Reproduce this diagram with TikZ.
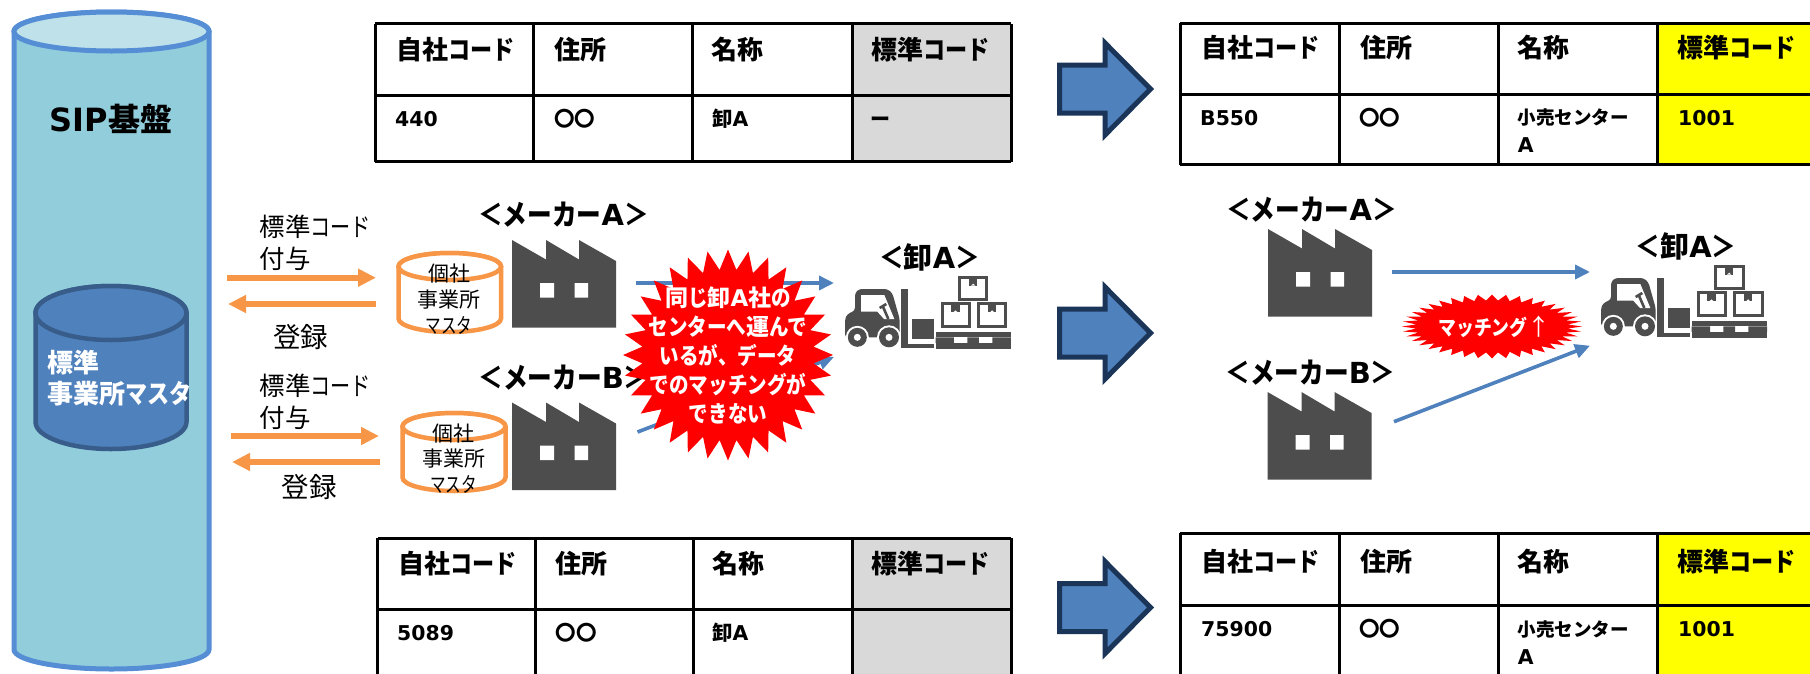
\documentclass[tikz,border=0pt]{standalone}
\usepackage{fontspec}
\setmainfont{Noto Sans CJK JP}
\newfontfamily\ltn[BoldFont={DejaVu Sans Bold}]{DejaVu Sans}
\newfontfamily\kaf[FakeStretch=0.85]{Noto Sans CJK JP}
\newfontfamily\kcf[FakeStretch=0.79]{Noto Sans CJK JP}
\newfontfamily\kbf[FakeStretch=0.74]{Noto Sans CJK JP}
\newcommand\ka[1]{{\kaf #1}}
\newcommand\kc[1]{{\kcf #1}}
\newcommand\kb[1]{{\kbf #1}}
\usetikzlibrary{arrows.meta}
\definecolor{cylfill}{HTML}{92CDDC}
\definecolor{cyltop}{HTML}{BEE1EA}
\definecolor{cylline}{HTML}{558ED5}
\definecolor{blu}{HTML}{4F81BD}
\definecolor{bluline}{HTML}{385D8A}
\definecolor{navy}{HTML}{1B3558}
\definecolor{org}{HTML}{F79646}
\definecolor{fact}{HTML}{4D4D4D}
\definecolor{hdrgray}{HTML}{D9D9D9}
\definecolor{yel}{HTML}{FFFF00}
\definecolor{burst}{HTML}{FF0000}
\newcommand\fs[2]{\fontsize{#1}{#2}\selectfont}
\newcommand\aL{{\ltn A}}
\newcommand\bL{{\ltn B}}
% cylinder: x1 x2 ytop ybot ry body top line lw
\newcommand\mycyl[9]{%
  \pgfmathsetmacro\rxx{(#2-#1)/2}
  \path[draw=#8,line width=#9,fill=#6] (#1,#3+#5) -- (#1,#4-#5)
     arc[start angle=180,end angle=360,x radius=\rxx pt,y radius=#5 pt]
     -- (#2,#3+#5) arc[start angle=0,end angle=180,x radius=\rxx pt,y radius=#5 pt] -- cycle;
  \path[draw=#8,line width=#9,fill=#7] ({(#1+#2)/2},#3+#5) ellipse[x radius=\rxx pt,y radius=#5 pt];
}
\newcommand\factory[2]{%
  \begin{scope}[shift={(#1,#2)}]
  \fill[fact] (0,0)--(34,19.5)--(34,0)--(67,19.5)--(67,0)--(104,21)--(104,87.5)--(0,87.5)--cycle;
  \fill[white] (28,43) rectangle (42,57.5) (62.5,43) rectangle (76,57.5);
  \end{scope}}
\newcommand\blockarrow[1]{%
  \draw[draw=navy,fill=blu,line width=5pt,miter limit=6]
   (1059.5,#1-24)--(1105,#1-24)--(1105,#1-46)--(1150.5,#1)--(1105,#1+46)--(1105,#1+24)--(1059.5,#1+24)--cycle;}
\newcommand\forklift[2]{%
  \begin{scope}[shift={(#1,#2)},x=0.3333pt,y=-0.3333pt]
  \fill[fact,rounded corners=3pt] (18,205)--(18,150)--(25,135)--(48,125)--(48,72)--(60,60)--(145,60)--(160,72)--(182,150)--(182,205)--cycle;
  \fill[white] (66,78)--(136,78)--(166,150)--(135,150)--(115,128)--(66,128)--cycle;
  \draw[fact,line width=2.6pt] (122,117)--(142,105) (131,111)--(148,150);
  \fill[white] (55,205) circle[radius=11.5pt];
  \fill[white] (150,205) circle[radius=12pt];
  \fill[fact] (55,205) circle[radius=9.5pt];
  \fill[fact] (150,205) circle[radius=10pt];
  \fill[white] (55,205) circle[radius=3.5pt];
  \fill[white] (150,205) circle[radius=3.5pt];
  \fill[fact] (185,60) rectangle (208,237);
  \fill[fact] (208,226) rectangle (286,237);
  \fill[fact] (220,150) rectangle (286,210);
  \fill[fact] (290,188) rectangle (516,205);
  \fill[fact] (290,222) rectangle (516,240);
  \fill[fact] (290,205) rectangle (345,222) (385,205) rectangle (420,222) (460,205) rectangle (516,222);
  \foreach \bx/\by in {305/100,415/100,358/20}{
    \draw[fact,line width=3pt] (\bx+4,\by+4) rectangle (\bx+86,\by+72);
    \fill[fact] (\bx+32,\by) rectangle (\bx+57,\by+30);
    \fill[white] (\bx+44.5,\by+24) -- (\bx+38,\by+30) -- (\bx+51,\by+30) -- cycle;
  }
  \end{scope}}
% table: x0 x1 x2 x3 x4 top mid bottom lastfill
\newcommand\tbl[9]{%
  \fill[#9] (#4,#6) rectangle (#5,#8);
  \draw[black,line width=3pt] (#1,#6) -- (#5,#6) (#1,#7) -- (#5,#7) (#1,#8) -- (#5,#8)
    (#1,#6) -- (#1,#8) (#2,#6) -- (#2,#8) (#3,#6) -- (#3,#8) (#4,#6) -- (#4,#8) (#5,#6) -- (#5,#8);
}
\tikzset{
  tx/.style={anchor=west,inner sep=0pt,text height=18pt,text depth=2.4pt,text=black},
  hd/.style={tx,text height=22.9pt,text depth=3.1pt,font=\fs{26}{30}\bfseries},
  latb/.style={tx,font=\fs{20.4}{24}\ltn\bfseries},
  sm/.style={tx,text height=16.3pt,text depth=2.2pt,font=\fs{18.5}{22}\bfseries},
  circ/.style={tx,font=\fs{20.5}{24}\bfseries},
  ttl/.style={inner sep=0pt,font=\fs{29}{34}\bfseries,text=black},
  lab/.style={inner sep=0pt,font=\fs{25.5}{32.5},text=black},
  lab2/.style={inner sep=0pt,font=\fs{27.5}{32},text=black},
  cyltxt/.style={inner sep=0pt,align=center,font=\fs{21}{25.8},text=black},
  orgarrow/.style={draw=org,line width=6pt,-{Triangle[length=18pt,width=17pt]}},
  bluearrow/.style={draw=blu,line width=3.6pt,-{Triangle[length=15pt,width=14pt]}},
  blutxt/.style={tx,text height=22.9pt,text depth=3.1pt,font=\fs{26}{31}\bfseries,text=white},
}
\begin{document}
\begin{tikzpicture}[x=1pt,y=-1pt]
\path[use as bounding box,clip] (0,0) rectangle (1810,673);
\fill[white] (0,0) rectangle (1810,673);
% SIP cylinder
\mycyl{14}{209}{12}{669}{19.5}{cylfill}{cyltop}{cylline}{5pt}
\node[inner sep=0pt,font=\fs{32}{38}\bfseries] (sip) at (111,119) {{\ltn SIP}基盤};
\mycyl{35.5}{186.5}{286}{449}{27}{blu}{blu}{bluline}{4.5pt}
\node[blutxt] (std1) at (47.5,363) {標準};
\node[blutxt] (std2) at (47.5,394) {事業所\ka{マスタ}};
% orange arrows
\coordinate (oa1) at (227,277.7); \coordinate (oa2) at (376,277.7);
\coordinate (ob1) at (376,304); \coordinate (ob2) at (228,304);
\coordinate (oc1) at (231,436); \coordinate (oc2) at (379,436);
\coordinate (od1) at (380,462); \coordinate (od2) at (232,462);
\draw[orgarrow] (oa1) -- (oa2);
\draw[orgarrow] (ob1) -- (ob2);
\draw[orgarrow] (oc1) -- (oc2);
\draw[orgarrow] (od1) -- (od2);
\node[lab,anchor=west,align=left] (l1) at (259.5,243) {標準\kc{コード}\\付与};
\node[lab2] (l2) at (300.6,337) {登録};
\node[lab,anchor=west,align=left] (l3) at (259.5,402) {標準\kc{コード}\\付与};
\node[lab2] (l4) at (309,487) {登録};
% orange cylinders
\mycyl{398.5}{501}{253}{332}{13.5}{white}{white}{org}{4.5pt}
\node[cyltxt] (c1) at (449,299) {個社\\事業所\\\kb{マスタ}};
\mycyl{402.5}{505.5}{413}{491}{13.5}{white}{white}{org}{4.5pt}
\node[cyltxt] (c2) at (453.5,458.5) {個社\\事業所\\\kb{マスタ}};
% left scene
\coordinate (ba1) at (636,283); \coordinate (ba2) at (834,283);
\coordinate (bb1) at (637.5,432); \coordinate (bb2) at (834,357);
\draw[bluearrow] (ba1) -- (ba2);
\draw[bluearrow] (bb1) -- (bb2);
\factory{512}{240}
\factory{512}{402.5}
\node[ttl] (mA) at (563.5,214.6) {\ka{＜メーカー}\aL\ka{＞}};
\node[ttl] (mB) at (563.5,378) {\ka{＜メーカー}\bL\ka{＞}};
\node[ttl] (wA) at (929.5,257.7) {\ka{＜}卸\aL\ka{＞}};
\forklift{839}{269}
% burst 1
\fill[burst] plot[samples at={0,...,63},variable=\k]
  ({728+(95.5+9.5*cos(\k*180))*sin(\k*5.625)},{355-(95.5+10*cos(\k*180))*cos(\k*5.625)}) -- cycle;
\node[inner sep=0pt,align=center,text=white,font=\fs{23}{29}\bfseries] (b1) at (728,355)
  {同\ka{じ}卸{\ltn A}社\ka{の}\\\ka{センターへ}運\ka{んで}\\\ka{いるが、データ}\\\ka{でのマッチングが}\\\ka{できない}};
% block arrows
\blockarrow{89}
\blockarrow{333}
\blockarrow{607.5}
% right scene
\factory{1268}{229}
\factory{1267.5}{392}
\node[ttl] (mA2) at (1311.5,210) {\ka{＜メーカー}\aL\ka{＞}};
\node[ttl] (mB2) at (1310.5,372.7) {\ka{＜メーカー}\bL\ka{＞}};
\node[ttl] (wA2) at (1686,246.7) {\ka{＜}卸\aL\ka{＞}};
\forklift{1595}{258}
\coordinate (bc1) at (1392,272); \coordinate (bc2) at (1590,272);
\coordinate (bd1) at (1394,421.7); \coordinate (bd2) at (1590,345.7);
\draw[bluearrow] (bc1) -- (bc2);
\draw[bluearrow] (bd1) -- (bd2);
\fill[burst] plot[samples at={0,...,79},variable=\k]
  ({1492+(83+7*cos(\k*180))*sin(\k*4.5)},{326.5-(29+3*cos(\k*180))*cos(\k*4.5)}) -- cycle;
\node[inner sep=0pt,text=white,font=\fs{21}{24}\bfseries] (b2) at (1494.5,326.7) {\ka{マッチング}{\mdseries\fontsize{23}{24}\selectfont ↑}};
% table 1
\tbl{375}{533.5}{692.5}{852}{1011}{23.5}{95}{161.7}{hdrgray}
\node[hd] (t1a) at (396,49.4) {自社\ka{コード}};
\node[hd] (t1b) at (554,49.4) {住所};
\node[hd] (t1c) at (711.5,49.4) {名称};
\node[hd] (t1d) at (871.5,49.4) {標準\ka{コード}};
\node[latb] (t1e) at (395,119) {440};
\node[circ] (t1f) at (554,119) {〇〇};
\node[tx,font=\fs{20.4}{24}\bfseries] (t1g) at (712,119) {卸{\ltn A}};
\node[tx,font=\fs{20}{24}\bfseries] (t1h) at (870,119) {ー};
% table 2
\tbl{377.5}{535.5}{693.7}{852}{1011}{538}{609.5}{690}{hdrgray}
\node[hd] (t2a) at (398,564) {自社\ka{コード}};
\node[hd] (t2b) at (555.5,564) {住所};
\node[hd] (t2c) at (712,564) {名称};
\node[hd] (t2d) at (871.5,564) {標準\ka{コード}};
\node[latb] (t2e) at (397,633) {5089};
\node[circ] (t2f) at (555.5,633) {〇〇};
\node[tx,font=\fs{20.4}{24}\bfseries] (t2g) at (712,633) {卸{\ltn A}};
% table 3
\tbl{1180}{1339}{1498.5}{1657}{1830}{23}{94.7}{164.7}{yel}
\node[hd] (t3a) at (1201.5,48) {自社\ka{コード}};
\node[hd] (t3b) at (1360,48) {住所};
\node[hd] (t3c) at (1517.7,48) {名称};
\node[hd] (t3d) at (1677.4,48) {標準\ka{コード}};
\node[latb] (t3e) at (1200,118) {B550};
\node[circ] (t3f) at (1359,118) {〇〇};
\node[sm] (t3g) at (1517.7,117.7) {小売センター};
\node[latb] (t3h) at (1517.7,144.7) {A};
\node[latb] (t3i) at (1678,118) {1001};
% table 4
\tbl{1180}{1339}{1498}{1657}{1830}{533.3}{605}{690}{yel}
\node[hd] (t4a) at (1201.5,561.7) {自社\ka{コード}};
\node[hd] (t4b) at (1360,561.7) {住所};
\node[hd] (t4c) at (1517.7,561.7) {名称};
\node[hd] (t4d) at (1677.4,561.7) {標準\ka{コード}};
\node[latb] (t4e) at (1201,629) {75900};
\node[circ] (t4f) at (1359,629) {〇〇};
\node[sm] (t4g) at (1517.7,629) {小売センター};
\node[latb] (t4h) at (1517.7,656.7) {A};
\node[latb] (t4i) at (1678,629) {1001};
\end{tikzpicture}
\end{document}
